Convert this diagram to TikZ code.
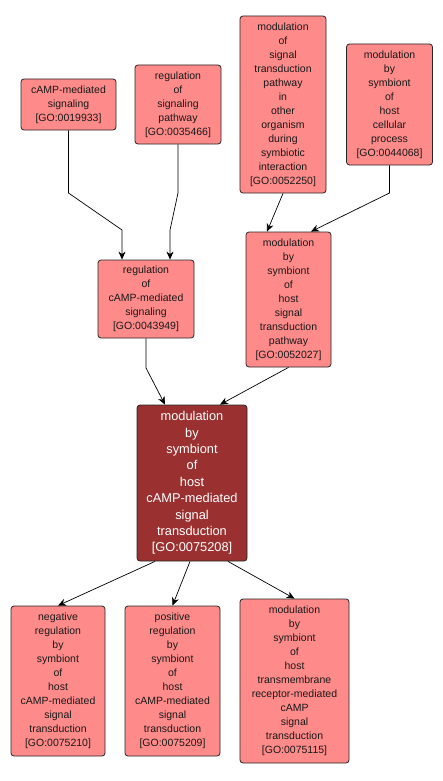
\documentclass[tikz,border=0pt]{standalone}
\usepackage{fontspec}
\setmainfont{Liberation Sans}
\usetikzlibrary{arrows.meta}
\definecolor{lightbox}{RGB}{255,138,138}
\definecolor{darkbox}{RGB}{155,48,48}
\begin{document}
\begin{tikzpicture}[x=1pt,y=-1pt,
  gobox/.style={draw=black!85,line width=0.8pt,fill=lightbox,rounded corners=3pt,
    align=center,inner sep=0pt,font=\fontsize{10.5}{14}\selectfont,text=black!90},
  mainbox/.style={gobox,fill=darkbox,text=white,font=\fontsize{12.8}{16.4}\selectfont},
  arr/.style={draw=black,line width=0.7pt,-{Stealth[length=8pt,width=7pt,inset=2.5pt]}}]
\useasboundingbox (0,0) rectangle (442,781);
\fill[white] (0,0) rectangle (442,781);
% nodes
\node[gobox,minimum width=95pt,minimum height=51pt] (A) at (68.5,104.5) {cAMP-mediated\\signaling\\{[GO:0019933]}};
\node[gobox,minimum width=86pt,minimum height=79pt] (B) at (178,104.5) {regulation\\of\\signaling\\pathway\\{[GO:0035466]}};
\node[gobox,minimum width=86pt,minimum height=177pt] (C) at (283,104.5) {modulation\\of\\signal\\transduction\\pathway\\in\\other\\organism\\during\\symbiotic\\interaction\\{[GO:0052250]}};
\node[gobox,minimum width=86pt,minimum height=121pt] (D) at (389.5,104.5) {modulation\\by\\symbiont\\of\\host\\cellular\\process\\{[GO:0044068]}};
\node[gobox,minimum width=96pt,minimum height=78pt] (E) at (146,299) {regulation\\of\\cAMP-mediated\\signaling\\{[GO:0043949]}};
\node[gobox,minimum width=85pt,minimum height=135pt] (F) at (288.5,299.5) {modulation\\by\\symbiont\\of\\host\\signal\\transduction\\pathway\\{[GO:0052027]}};
\node[mainbox,minimum width=110pt,minimum height=156pt] (G) at (192,483) {modulation\\by\\symbiont\\of\\host\\cAMP-mediated\\signal\\transduction\\{[GO:0075208]}};
\node[gobox,minimum width=94pt,minimum height=150pt] (H) at (58,681) {negative\\regulation\\by\\symbiont\\of\\host\\cAMP-mediated\\signal\\transduction\\{[GO:0075210]}};
\node[gobox,minimum width=95pt,minimum height=150pt] (I) at (172.5,681) {positive\\regulation\\by\\symbiont\\of\\host\\cAMP-mediated\\signal\\transduction\\{[GO:0075209]}};
\node[gobox,minimum width=109pt,minimum height=164pt] (J) at (294.5,681) {modulation\\by\\symbiont\\of\\host\\transmembrane\\receptor-mediated\\cAMP\\signal\\transduction\\{[GO:0075115]}};
% bend points
\coordinate (a1) at (68.5,193);
\coordinate (a2) at (122,230);
\coordinate (b1) at (178,193);
\coordinate (b2) at (170,230);
\coordinate (c1) at (267,0);
\coordinate (d1) at (389.5,193);
\coordinate (d2) at (311,0);
\coordinate (e1) at (146,368);
\coordinate (g1) at (165,0);
\coordinate (g2) at (220,0);
\coordinate (h1) at (155,0);
\coordinate (h2) at (190,0);
\coordinate (h3) at (228,0);
% edges
\draw[arr] (A.south) -- (a1) -- (a2) -- (a2 |- E.north);
\draw[arr] (B.south) -- (b1) -- (b2) -- (b2 |- E.north);
\draw[arr] (C.south) -- (c1 |- F.north);
\draw[arr] (D.south) -- (d1) -- (d2 |- F.north);
\draw[arr] (E.south) -- (e1) -- (g1 |- G.north);
\draw[arr] (F.south) -- (g2 |- G.north);
\draw[arr] (h1 |- G.south) -- (H.north);
\draw[arr] (h2 |- G.south) -- (I.north);
\draw[arr] (h3 |- G.south) -- (J.north);
\end{tikzpicture}
\end{document}
